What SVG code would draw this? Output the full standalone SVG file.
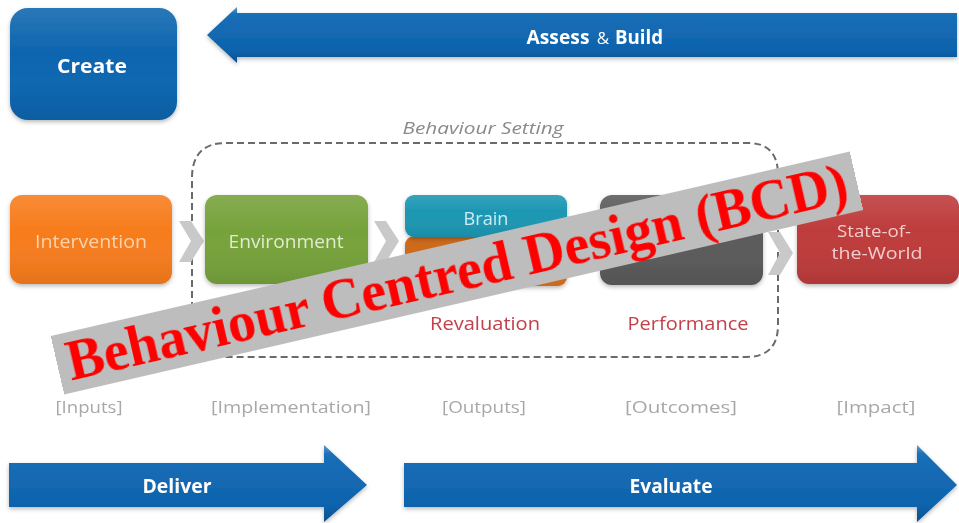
<svg xmlns="http://www.w3.org/2000/svg" width="959" height="523" viewBox="0 0 959 523">
  <defs>
    <linearGradient id="blueBar" x1="0" y1="0" x2="0" y2="1">
      <stop offset="0" stop-color="#5a9bd4"/>
      <stop offset="0.12" stop-color="#1a6fb8"/>
      <stop offset="0.8" stop-color="#0d62ab"/>
      <stop offset="1" stop-color="#0a4f8c"/>
    </linearGradient>
    <linearGradient id="gloss" x1="0" y1="0" x2="0" y2="1">
      <stop offset="0" stop-color="#ffffff" stop-opacity="0.12"/>
      <stop offset="0.4" stop-color="#ffffff" stop-opacity="0"/>
      <stop offset="1" stop-color="#000000" stop-opacity="0.08"/>
    </linearGradient>
    <filter id="shadow" x="-10%" y="-10%" width="120%" height="130%">
      <feDropShadow dx="0" dy="2" stdDeviation="2" flood-color="#000" flood-opacity="0.28"/>
    </filter>
    <filter id="soft" x="-5%" y="-5%" width="110%" height="110%">
      <feGaussianBlur stdDeviation="0.5"/>
    </filter>
  </defs>
  <style>
    .lbl { font-family: "Open Sans", Lato, sans-serif; text-anchor: middle; }
    .box-text { font-size: 19px; }
    .bar-text { font-size: 19px; fill: #ffffff; font-weight: bold; }
    .stage { font-size: 16px; fill: #a8a8a8; }
    .sub { font-size: 18px; fill: #c4404a; }
    .chev { fill: #c9c9c9; }
  </style>

  <rect width="959" height="523" fill="#ffffff"/>

  <g filter="url(#soft)">
    <!-- Blue process bars -->
    <g id="assess-build">
      <path d="M207,35 L237,7 L237,13 L957,13 L957,57 L237,57 L237,63 Z" fill="url(#blueBar)" filter="url(#shadow)"/>
      <text class="lbl bar-text" x="558" y="44" font-size="20" textLength="63" lengthAdjust="spacingAndGlyphs">Assess</text>
      <text class="lbl" x="603" y="44" font-size="17" fill="#ffffff">&amp;</text>
      <text class="lbl bar-text" x="639" y="44" font-size="20" textLength="48" lengthAdjust="spacingAndGlyphs">Build</text>
    </g>

    <g id="create">
      <rect x="10" y="8" width="167" height="112" rx="18" fill="#0f65af" filter="url(#shadow)"/>
      <rect x="10" y="8" width="167" height="112" rx="18" fill="url(#gloss)"/>
      <text class="lbl" x="92" y="73" font-size="20" font-weight="bold" fill="#ffffff" textLength="70" lengthAdjust="spacingAndGlyphs">Create</text>
    </g>

    <g id="deliver">
      <path d="M9,463 L324,463 L324,445 L367,485 L324,522 L324,507 L9,507 Z" fill="url(#blueBar)" filter="url(#shadow)"/>
      <text class="lbl bar-text" x="177" y="493" textLength="69" lengthAdjust="spacingAndGlyphs">Deliver</text>
    </g>

    <g id="evaluate">
      <path d="M404,463 L917,463 L917,445 L957,485 L917,522 L917,507 L404,507 Z" fill="url(#blueBar)" filter="url(#shadow)"/>
      <text class="lbl bar-text" x="671" y="493" textLength="83" lengthAdjust="spacingAndGlyphs">Evaluate</text>
    </g>

    <!-- Behaviour setting frame -->
    <g id="behaviour-setting">
      <path d="M226,143 L748,143 Q778,143 778,175 L778,325 Q778,357 746,357 L222,357 Q192,357 192,327 L192,178 Q192,143 226,143 Z" fill="none" stroke="#6a6a6a" stroke-width="2" stroke-dasharray="7,4"/>
      <text class="lbl" x="483" y="134" font-size="16" font-style="italic" fill="#8a8a8a" textLength="161" lengthAdjust="spacingAndGlyphs">Behaviour Setting</text>
    </g>

    <!-- Connectors: chevrons between stages -->
    <g id="connectors">
      <polygon class="chev" points="179,221 191,221 204,241 191,262 179,262 191,241"/>
      <polygon class="chev" points="374,221 386,221 399,241 386,262 374,262 386,241"/>
      <polygon class="chev" points="768,232 780,232 793,253 780,275 768,275 780,253"/>
    </g>

    <!-- Stage nodes -->
    <g id="intervention">
      <rect x="10" y="195" width="162" height="89" rx="12" fill="#f77c1c" filter="url(#shadow)"/>
      <rect x="10" y="195" width="162" height="89" rx="12" fill="url(#gloss)"/>
      <text class="lbl box-text" x="91" y="248" fill="#fcd3ae" textLength="112" lengthAdjust="spacingAndGlyphs">Intervention</text>
    </g>

    <g id="environment">
      <rect x="205" y="195" width="163" height="89" rx="12" fill="#76a23a" filter="url(#shadow)"/>
      <rect x="205" y="195" width="163" height="89" rx="12" fill="url(#gloss)"/>
      <text class="lbl box-text" x="286" y="248" fill="#e0ebcf" textLength="115" lengthAdjust="spacingAndGlyphs">Environment</text>
    </g>

    <g id="brain-body">
      <rect x="405" y="236" width="162" height="50" rx="9" fill="#cd6a1e" filter="url(#shadow)"/>
      <rect x="405" y="195" width="162" height="42" rx="9" fill="#1a97b3" filter="url(#shadow)"/>
      <rect x="405" y="195" width="162" height="42" rx="9" fill="url(#gloss)"/>
      <text class="lbl box-text" x="486" y="225" fill="#cfecf2" textLength="45" lengthAdjust="spacingAndGlyphs">Brain</text>
    </g>

    <g id="behaviour">
      <rect x="600" y="195" width="163" height="90" rx="12" fill="#5a5a5a" filter="url(#shadow)"/>
      <rect x="600" y="195" width="163" height="90" rx="12" fill="url(#gloss)"/>
    </g>

    <g id="state-of-the-world">
      <rect x="797" y="195" width="162" height="89" rx="12" fill="#be3a3a" filter="url(#shadow)"/>
      <rect x="797" y="195" width="162" height="89" rx="12" fill="url(#gloss)"/>
      <text class="lbl" x="874" y="237" font-size="17" fill="#f2cccc" textLength="74" lengthAdjust="spacingAndGlyphs">State-of-</text>
      <text class="lbl" x="877" y="259" font-size="17" fill="#f2cccc" textLength="91" lengthAdjust="spacingAndGlyphs">the-World</text>
    </g>

    <!-- Outcome labels inside the setting -->
    <text class="lbl sub" x="485" y="330" textLength="110" lengthAdjust="spacingAndGlyphs">Revaluation</text>
    <text class="lbl sub" x="688" y="330" textLength="121" lengthAdjust="spacingAndGlyphs">Performance</text>

    <!-- Stage captions -->
    <g id="stage-captions">
      <text class="lbl stage" x="89" y="413" textLength="67" lengthAdjust="spacingAndGlyphs">[Inputs]</text>
      <text class="lbl stage" x="291" y="413" textLength="160" lengthAdjust="spacingAndGlyphs">[Implementation]</text>
      <text class="lbl stage" x="484" y="413" textLength="84" lengthAdjust="spacingAndGlyphs">[Outputs]</text>
      <text class="lbl stage" x="681" y="413" textLength="112" lengthAdjust="spacingAndGlyphs">[Outcomes]</text>
      <text class="lbl stage" x="876" y="413" textLength="79" lengthAdjust="spacingAndGlyphs">[Impact]</text>
    </g>
  </g>

  <!-- Title banner across the diagram -->
  <g id="title-banner" transform="translate(457,273) rotate(-13)">
    <rect x="-410" y="-30" width="820" height="60" fill="#bdbdbd"/>
    <text x="0" y="18" text-anchor="middle" font-family="'Liberation Serif', 'DejaVu Serif', serif" font-weight="bold" font-size="56" fill="#ff0000" textLength="800" lengthAdjust="spacingAndGlyphs">Behaviour Centred Design (BCD)</text>
  </g>
</svg>
